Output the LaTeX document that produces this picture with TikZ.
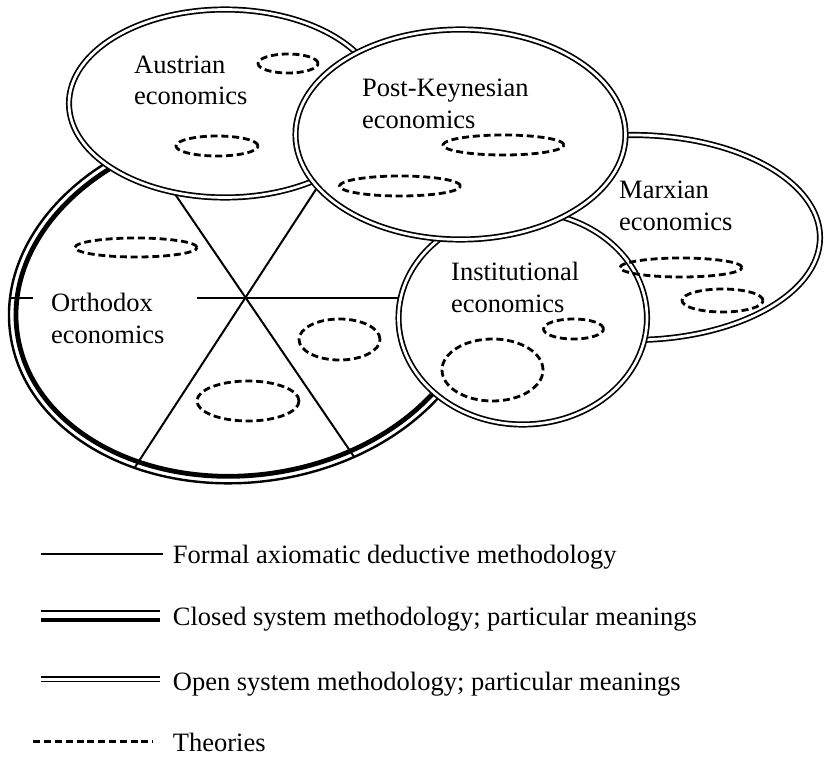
\documentclass[tikz,border=0pt]{standalone}
\usepackage{fontspec}
\setmainfont{Liberation Serif}
\begin{document}
\begin{tikzpicture}[x=1pt,y=-1pt,
  openline/.style={draw=black, line width=1.7pt, double=white, double distance=2.7pt},
  school/.style={openline, fill=white},
  theory/.style={draw=black, line width=2.8pt, dash pattern=on 7pt off 3.8pt},
  formal/.style={draw=black, line width=2pt},
  closedthin/.style={draw=black, line width=2.4pt},
  closedthick/.style={draw=black, line width=4.8pt},
  lbl/.style={font=\fontsize{26.5}{31.8}\selectfont, align=left, inner sep=0pt, anchor=base west},
]
\useasboundingbox (0,0) rectangle (825,757);

% ---- Orthodox economics (closed system) ----
\coordinate (oc) at (247,301);
\fill[white, rotate around={8:(oc)}] (oc) ellipse [x radius=239pt, y radius=181pt];
\begin{scope}
  \clip[rotate around={8:(oc)}] (oc) ellipse [x radius=239pt, y radius=181pt];
  \coordinate (O) at (245.5,297.5);
  \coordinate (s1a) at (409.3,46.1);
  \coordinate (s1b) at (81.7,548.9);
  \coordinate (s2a) at (76.6,49.7);
  \coordinate (s2b) at (414.4,545.3);
  \coordinate (hl) at (-50,297.5);
  \coordinate (hl2) at (33.3,297.5);
  \coordinate (hr1) at (197,297.5);
  \coordinate (hr) at (600,297.5);
  \draw[formal] (s1a) -- (s1b);
  \draw[formal] (s2a) -- (s2b);
  \draw[formal] (hl) -- (hl2);
  \draw[formal] (hr1) -- (hr);
\end{scope}
\draw[closedthin, rotate around={8:(oc)}] (oc) ellipse [x radius=239pt, y radius=181pt];
\draw[closedthick, rotate around={8:(oc)}] (oc) ellipse [x radius=232pt, y radius=174pt];

% ---- Marxian ----
\draw[school] (633,237.5) ellipse [x radius=187pt, y radius=102.5pt];
% ---- Institutional ----
\draw[school] (522.75,318) ellipse [x radius=124.25pt, y radius=106.5pt];
% ---- Austrian ----
\draw[school] (225,103.5) ellipse [x radius=156pt, y radius=94pt];
% ---- Post-Keynesian ----
\draw[school] (460.5,134.5) ellipse [x radius=165pt, y radius=105pt];

% ---- Theories ----
\draw[theory] (288,63.5) ellipse [x radius=30pt, y radius=9.5pt];
\draw[theory] (217,146) ellipse [x radius=41pt, y radius=10pt];
\draw[theory] (503.5,145) ellipse [x radius=60.5pt, y radius=10pt];
\draw[theory] (400,186) ellipse [x radius=60.5pt, y radius=10pt];
\draw[theory] (136,247.5) ellipse [x radius=61pt, y radius=9.5pt];
\draw[theory] (339.5,339.5) ellipse [x radius=40.5pt, y radius=20.5pt];
\draw[theory] (248,401) ellipse [x radius=51pt, y radius=20pt];
\draw[theory] (681,267.5) ellipse [x radius=61pt, y radius=9.5pt];
\draw[theory] (722.5,300.5) ellipse [x radius=40.5pt, y radius=11.5pt];
\draw[theory] (573.5,329) ellipse [x radius=30pt, y radius=10pt];
\draw[theory] (492.5,370) ellipse [x radius=50.5pt, y radius=31pt];

% ---- Labels (anchor at baseline of the last line) ----
\node[lbl] (aus) at (134,105) {Austrian\\economics};
\node[lbl] (pk) at (362,128.5) {Post-Keynesian\\economics};
\node[lbl] (mx) at (619,230) {Marxian\\economics};
\node[lbl] (inst) at (451,312) {Institutional\\economics};
\node[lbl] (orth) at (51,343) {Orthodox\\economics};

% ---- Legend ----
\coordinate (l1a) at (40.7,554);   \coordinate (l1b) at (163.3,554);
\coordinate (l2a) at (40.7,611.2); \coordinate (l2b) at (160,611.2);
\coordinate (l2c) at (40.7,620);   \coordinate (l2d) at (160,620);
\coordinate (l3a) at (40.7,679.3); \coordinate (l3b) at (160,679.3);
\coordinate (l4a) at (33.3,741.7); \coordinate (l4b) at (153.3,741.7);
\draw[formal] (l1a) -- (l1b);
\draw[closedthin] (l2a) -- (l2b);
\draw[closedthick] (l2c) -- (l2d);
\draw[openline] (l3a) -- (l3b);
\draw[theory] (l4a) -- (l4b);
\node[lbl] (t1) at (172.7,563.3) {Formal axiomatic deductive methodology};
\node[lbl] (t2) at (172.7,625) {Closed system methodology; particular meanings};
\node[lbl] (t3) at (172.7,690) {Open system methodology; particular meanings};
\node[lbl] (t4) at (172.7,751.7) {Theories};
\end{tikzpicture}
\end{document}
